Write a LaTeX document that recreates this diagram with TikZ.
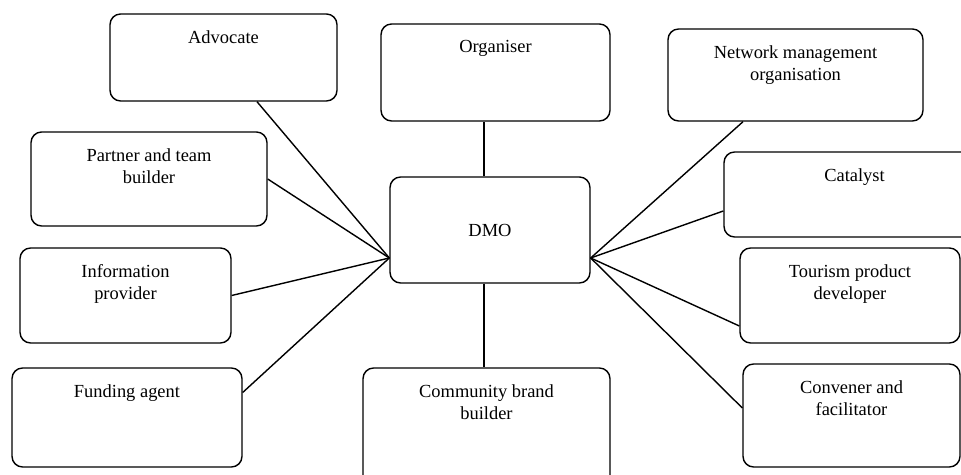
\documentclass[tikz,border=0pt]{standalone}
\usepackage{fontspec}
\setmainfont{Liberation Serif}
\usepackage{tikz}
\tikzset{%
  rolebox/.style  = {shape=rectangle, rounded corners=6pt,%
                     draw, line width=0.8pt, inner sep=0pt,%
                     font=\fontsize{10.5}{12.6}\selectfont},%
  roletext/.style = {anchor=north, inner sep=0pt, yshift=-9.5pt,%
                     align=center, font=\fontsize{10.5}{12.6}\selectfont},%
  spoke/.style    = {line width=0.8pt}%
}

\begin{document}
\begin{tikzpicture}[x=0.02cm,y=-0.02cm]
	\useasboundingbox (0,0) rectangle (961,475);
	\clip (0,0) rectangle (961,475);
	% centre
		\node [rolebox, minimum width=4.00cm, minimum height=2.12cm] (dmo) at (490,230) {DMO};
	% left column
		\node [rolebox, minimum width=4.54cm, minimum height=1.74cm] (adv) at (223.5,57.5) {};
		\node [roletext] (advt) at (adv.north) {Advocate};
		\node [rolebox, minimum width=4.72cm, minimum height=1.88cm] (part) at (149,179) {};
		\node [roletext] (partt) at (part.north) {Partner and team\\builder};
		\node [rolebox, minimum width=4.22cm, minimum height=1.90cm] (info) at (125.5,295.5) {};
		\node [roletext] (infot) at (info.north) {Information\\provider};
		\node [rolebox, minimum width=4.60cm, minimum height=1.98cm] (fund) at (127,417.5) {};
		\node [roletext] (fundt) at (fund.north) {Funding agent};
	% middle column
		\node [rolebox, minimum width=4.58cm, minimum height=1.94cm] (org) at (495.5,72.5) {};
		\node [roletext] (orgt) at (org.north) {Organiser};
		\node [rolebox, minimum width=4.94cm, minimum height=2.64cm] (com) at (486.5,434) {};
		\node [roletext] (comt) at (com.north) {Community brand\\builder};
	% right column
		\node [rolebox, minimum width=5.10cm, minimum height=1.84cm] (net) at (795.5,75) {};
		\node [roletext] (nett) at (net.north) {Network management\\organisation};
		\node [rolebox, minimum width=5.22cm, minimum height=1.70cm] (cat) at (854.5,194.5) {};
		\node [roletext] (catt) at (cat.north) {Catalyst};
		\node [rolebox, minimum width=4.40cm, minimum height=1.90cm] (tour) at (850,295.5) {};
		\node [roletext] (tourt) at (tour.north) {Tourism product\\developer};
		\node [rolebox, minimum width=4.34cm, minimum height=2.06cm] (conv) at (851.5,415.5) {};
		\node [roletext] (convt) at (conv.north) {Convener and\\facilitator};
	% spokes
		\coordinate (hubl) at ([yshift=-0.56cm]dmo.west);
		\coordinate (hubr) at ([yshift=-0.56cm]dmo.east);
		\draw [spoke] ([xshift=0.67cm]adv.south) -- (hubl);
		\draw [spoke] (part.east) -- (hubl);
		\draw [spoke] (info.east) -- (hubl);
		\draw [spoke] ([yshift=0.5cm]fund.east) -- (hubl);
		\draw [spoke] ([xshift=-1.05cm]net.south) -- (hubr);
		\draw [spoke] ([yshift=-0.33cm]cat.west) -- (hubr);
		\draw [spoke] ([yshift=-0.61cm]tour.west) -- (hubr);
		\draw [spoke] ([yshift=0.15cm]conv.west) -- (hubr);
		\draw [spoke] ([xshift=-0.12cm]dmo.north) -- ([xshift=-0.12cm]dmo.north |- org.south);
		\draw [spoke] ([xshift=-0.12cm]dmo.south) -- ([xshift=-0.12cm]dmo.south |- com.north);
\end{tikzpicture}
\end{document}
